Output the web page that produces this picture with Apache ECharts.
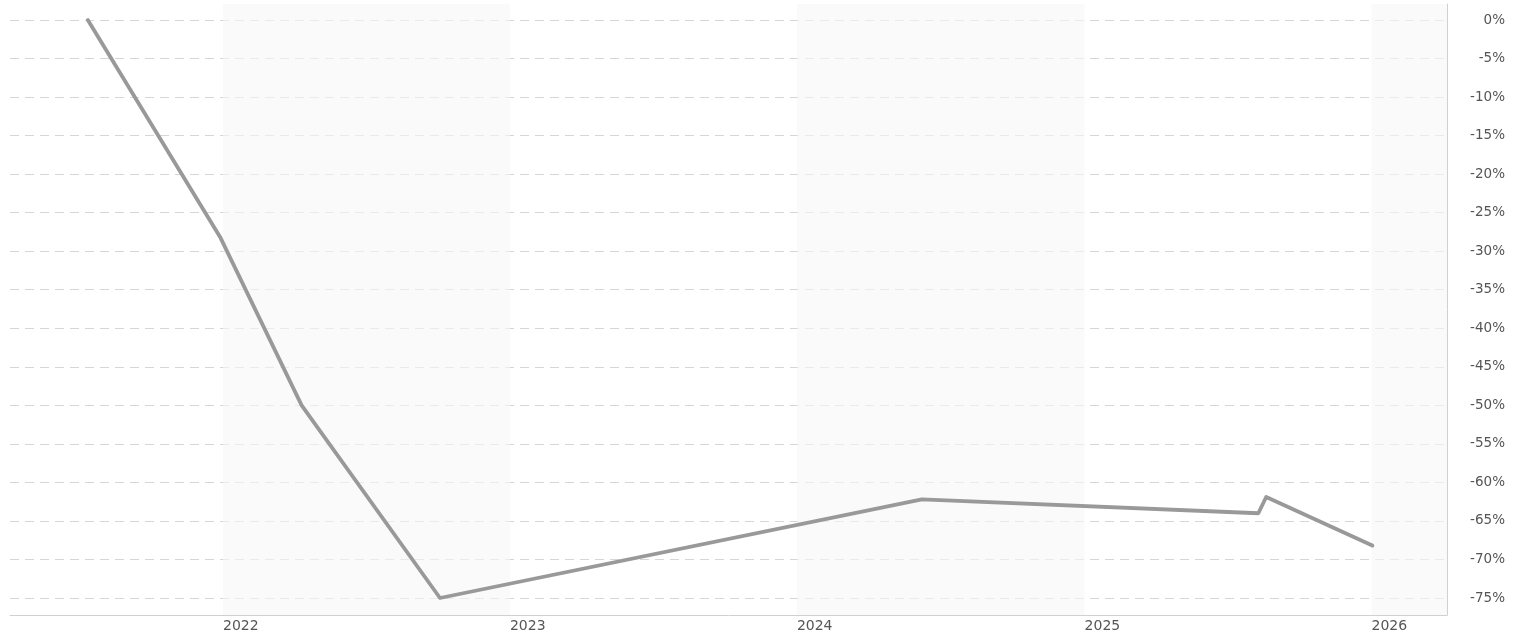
<!DOCTYPE html>
<html>
<head>
<meta charset="utf-8">
<script src="https://cdn.jsdelivr.net/npm/echarts@6/dist/echarts.min.js"></script>
<style>
html,body{margin:0;padding:0;background:#fff;}
#chart{width:1523px;height:637px;}
</style>
</head>
<body>
<div id="chart"></div>
<script>
// ---- data ----
var dates = ['2021-07-13', '2021-12-29', '2022-04-11', '2022-10-04', '2024-06-08', '2025-08-10', '2025-08-20', '2026-01-02'];
var values = [0, -28.3, -50.0, -75.0, -62.2, -64.0, -61.9, -68.2];
var yearTicks = ['2022-01-01', '2023-01-01', '2024-01-01', '2025-01-01', '2026-01-01'];
var shadedBands = [['2022-01-01', '2023-01-01'], ['2024-01-01', '2025-01-01'], ['2026-01-01', '2026-04-07']];
var xMin = '2021-04-05';
var xMax = '2026-04-07';
var yTickMin = -75, yTickMax = 0, yTickStep = 5;

var chart = echarts.init(document.getElementById('chart'), null, {renderer: 'canvas'});
var ts = function (s) { return +new Date(s + 'T00:00:00Z'); };
var font = 'DejaVu Sans, Verdana, sans-serif';

var option = {
  animation: false,
  backgroundColor: '#fff',
  grid: [
    {left: 10, right: 76, top: 20, bottom: 39},
    {left: 10, right: 76, top: 4, bottom: 22}
  ],
  xAxis: [
    {type: 'value', gridIndex: 0, min: ts(xMin), max: ts(xMax), show: false, splitLine: {show: false}},
    {type: 'value', gridIndex: 1, min: ts(xMin), max: ts(xMax),
      axisLine: {show: true, lineStyle: {color: '#d0d0d0', width: 1}},
      axisTick: {show: false},
      splitLine: {show: false},
      axisLabel: {
        customValues: yearTicks.map(ts),
        align: 'left', margin: 4,
        color: '#555', fontFamily: font, fontSize: 14,
        formatter: function (v) { return String(new Date(v).getUTCFullYear()); }
      }
    }
  ],
  yAxis: [
    {type: 'value', gridIndex: 0, position: 'right', min: yTickMin, max: yTickMax, interval: yTickStep,
      axisLine: {show: false}, axisTick: {show: false},
      splitLine: {show: true, lineStyle: {color: '#d6d6d6', type: [9, 6], width: 1}},
      axisLabel: {align: 'right', margin: 58, color: '#555', fontFamily: font, fontSize: 13.5,
        formatter: function (v) { return v + '%'; }}
    },
    {type: 'value', gridIndex: 1, position: 'right', min: 0, max: 1,
      axisLine: {show: true, lineStyle: {color: '#d0d0d0', width: 1}},
      axisTick: {show: false}, axisLabel: {show: false}, splitLine: {show: false}
    }
  ],
  series: [
    {type: 'line', xAxisIndex: 1, yAxisIndex: 1, data: [], silent: true, z: 0,
      markArea: {silent: true, itemStyle: {color: 'rgba(246,246,246,0.6)'},
        data: shadedBands.map(function (b) { return [{xAxis: ts(b[0])}, {xAxis: ts(b[1])}]; })}
    },
    {type: 'line', xAxisIndex: 0, yAxisIndex: 0, z: 5,
      data: dates.map(function (d, i) { return [ts(d), values[i]]; }),
      showSymbol: false, symbol: 'none',
      lineStyle: {color: '#999', width: 3.8, join: 'round', cap: 'round'}
    }
  ]
};
chart.setOption(option);
</script>
</body>
</html>
